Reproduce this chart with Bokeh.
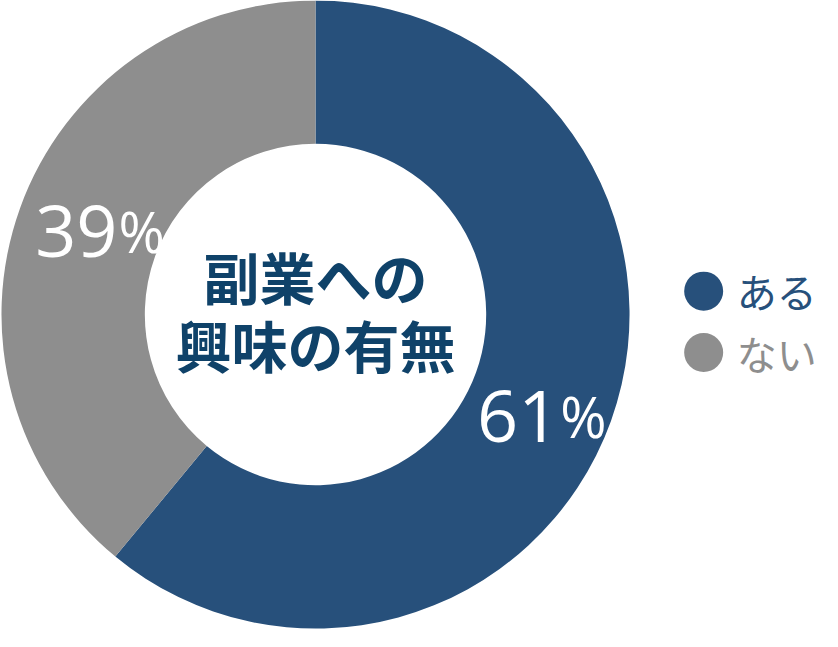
import numpy as np
from bokeh.plotting import figure
from bokeh.models import ColumnDataSource, Range1d
from bokeh.core.properties import value
from bokeh.embed import file_html
from bokeh.resources import INLINE

# data
labels = ["ある", "ない"]
values = [61, 39]
colors = ["#27507b", "#8e8e8e"]
center_title = ["副業への", "興味の有無"]

# layout in reference pixels (y measured from top)
W, H = 838, 647
cx, cy = 323, 322
r_out, r_in = 322, 175
s = 631 / H

def Y(y):
    return H - y

fracs = np.array(values) / sum(values)
ends = np.cumsum(fracs)
starts = ends - fracs
start_ang = np.pi / 2 - 2 * np.pi * starts
end_ang = np.pi / 2 - 2 * np.pi * ends

src = ColumnDataSource(dict(label=labels, value=values, color=colors,
                            start=start_ang, end=end_ang))

p = figure(width=822, height=631, output_backend="svg", toolbar_location=None,
           x_range=Range1d(0, 822 / s), y_range=Range1d(0, H),
           min_border=0, outline_line_color=None, background_fill_color="white")
p.axis.visible = False
p.grid.visible = False

p.annular_wedge(x=cx, y=Y(cy), inner_radius=r_in, outer_radius=r_out,
                start_angle="start", end_angle="end", direction="clock",
                color="color", line_color=None, source=src)

# percentage labels
num_font = value("Open Sans")
lab_pos = [(573, 426), (120, 236)]
for v, (lx, ly) in zip(values, lab_pos):
    p.text(x=[lx], y=[Y(ly)], text=[str(v)], text_color="white",
           text_font=num_font, text_font_size=f"{74 * s:.0f}px",
           text_align="right", text_baseline="alphabetic")
    p.text(x=[lx + 1], y=[Y(ly)], text=["%"], text_color="white",
           text_font=num_font, text_font_size=f"{57 * s:.0f}px",
           text_align="left", text_baseline="alphabetic")

# center title
p.text(x=[cx] * 2, y=[Y(282), Y(352)], text=center_title,
       text_color="#0f4269", text_font=value("Noto Sans CJK JP"),
       text_font_style="bold", text_font_size=f"{57 * s:.0f}px",
       text_align="center", text_baseline="middle")

# legend
leg_y = [Y(298 + 63 * i) for i in range(len(labels))]
p.circle(x=[721] * len(labels), y=leg_y, radius=20, color=colors, line_color=None)
p.text(x=[755] * len(labels), y=leg_y, text=labels, text_color=colors,
       text_font=value("Noto Sans CJK JP"), text_font_size=f"{41 * s:.0f}px",
       text_align="left", text_baseline="middle")

open("out.html", "w").write(file_html(p, INLINE))
